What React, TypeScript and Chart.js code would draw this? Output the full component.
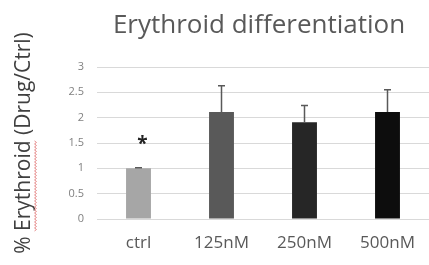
import React, { useEffect, useRef } from "react";
import { Chart, registerables } from "chart.js";

Chart.register(...registerables);

const categories = ["ctrl", "125nM", "250nM", "500nM"];
const values = [1.0, 2.11, 1.91, 2.11];
const errors = [0.01, 0.52, 0.33, 0.44];
const barColors = ["#a6a6a6", "#595959", "#262626", "#0d0d0d"];
const markers = ["*", "", "", ""];
const markerValues = [1.54, 0, 0, 0];
const yMin = 0;
const yMax = 3;
const yStep = 0.5;
const chartTitle = "Erythroid differentiation";
const yTitle = "% Erythroid (Drug/Ctrl)";
const underlinedWord = "Erythroid";

const FONT = "'Open Sans', 'Noto Sans', sans-serif";

const extrasPlugin = {
  id: "extras",
  afterDatasetsDraw(chart: any) {
    const ctx = chart.ctx;
    const meta = chart.getDatasetMeta(0);
    const y = chart.scales.y;
    ctx.save();
    meta.data.forEach((bar: any, i: number) => {
      const top = y.getPixelForValue(values[i]);
      const errTop = y.getPixelForValue(values[i] + errors[i]);
      ctx.strokeStyle = "#595959";
      ctx.lineWidth = 1.5;
      ctx.beginPath();
      ctx.moveTo(bar.x, top);
      ctx.lineTo(bar.x, errTop);
      ctx.moveTo(bar.x - 3.5, errTop);
      ctx.lineTo(bar.x + 3.5, errTop);
      ctx.stroke();
      if (markers[i]) {
        ctx.fillStyle = "#222222";
        ctx.font = `bold 19px ${FONT}`;
        ctx.textAlign = "center";
        ctx.textBaseline = "middle";
        ctx.fillText(markers[i], bar.x + 4, y.getPixelForValue(markerValues[i]) + 4);
      }
    });
    ctx.restore();
  },
  afterDraw(chart: any) {
    const ctx = chart.ctx;
    const area = chart.chartArea;
    ctx.save();
    ctx.fillStyle = "#595959";
    ctx.font = `26px ${FONT}`;
    ctx.textAlign = "center";
    ctx.textBaseline = "alphabetic";
    ctx.fillText(chartTitle, (area.left + area.right) / 2 - 4, 33);
    // red spell-check squiggle under "Erythroid" in the y title
    const yTitleFont = chart.options.scales.y.title.font;
    ctx.font = `${yTitleFont.size}px ${FONT}`;
    const full = ctx.measureText(yTitle).width;
    const prefix = ctx.measureText(yTitle.slice(0, yTitle.indexOf(underlinedWord))).width;
    const word = ctx.measureText(underlinedWord).width;
    const cy = (area.top + area.bottom) / 2;
    const start = cy + full / 2 - prefix;
    const end = start - word;
    const x0 = 35.5;
    ctx.strokeStyle = "#e58a8a";
    ctx.lineWidth = 1;
    ctx.beginPath();
    let k = 0;
    for (let p = start; p >= end; p -= 1.5) {
      const xx = x0 + (k % 2 === 0 ? -1 : 1);
      if (k === 0) ctx.moveTo(xx, p);
      else ctx.lineTo(xx, p);
      k++;
    }
    ctx.stroke();
    ctx.restore();
  },
};

export default function App() {
  const ref = useRef<HTMLCanvasElement>(null);
  useEffect(() => {
    if (!ref.current) return;
    const chart = new Chart(ref.current, {
      type: "bar",
      data: {
        labels: categories,
        datasets: [
          {
            data: values,
            backgroundColor: barColors,
            borderWidth: 0,
            categoryPercentage: 1,
            barPercentage: 0.3,
          },
        ],
      },
      options: {
        responsive: false,
        animation: false,
        layout: { padding: { top: 67, left: 0, right: 0, bottom: 0 } },
        plugins: {
          legend: { display: false },
          tooltip: { enabled: false },
          title: { display: false },
        },
        scales: {
          x: {
            grid: { display: false, drawTicks: false },
            border: { display: false },
            ticks: {
              color: "#595959",
              font: { family: FONT, size: 17 },
              padding: 14,
            },
            afterFit: (s: any) => {
              s.height = 46;
            },
          },
          y: {
            min: yMin,
            max: yMax,
            ticks: {
              stepSize: yStep,
              color: "#808080",
              font: { family: FONT, size: 11 },
              padding: 13,
              callback: (v: any) => String(Number(v)),
            },
            grid: { color: "#d9d9d9", lineWidth: 1, drawTicks: false },
            border: { display: false },
            title: {
              display: true,
              text: yTitle,
              color: "#404040",
              font: { family: FONT, size: 21 },
              padding: { top: 11, bottom: 0 },
            },
            afterFit: (s: any) => {
              s.width = 97;
            },
          },
        },
      },
      plugins: [extrasPlugin],
    });
    return () => chart.destroy();
  }, []);
  return (
    <div style={{ position: "fixed", left: 0, top: 0, width: 429, height: 265, background: "#fff" }}>
      <canvas ref={ref} width={429} height={265} />
    </div>
  );
}
